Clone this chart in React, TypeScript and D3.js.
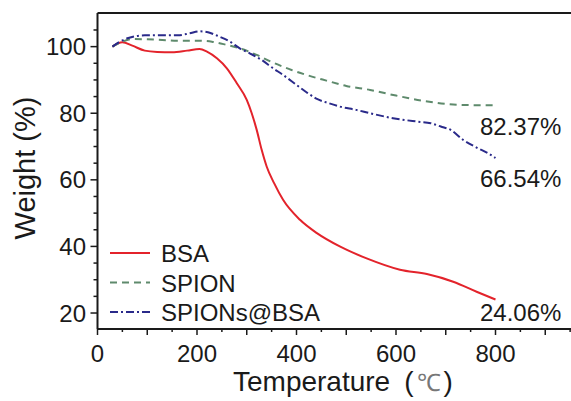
import React from "react";
import * as d3 from "d3";

const bsaT = [30, 50, 70, 95, 120, 150, 180, 205, 220, 240, 260, 280, 300, 310, 320, 330, 340, 355, 373, 407, 441, 487, 541, 608, 662, 715, 762, 800];
const bsaW = [100, 101.3, 100.3, 98.8, 98.4, 98.3, 98.8, 99.3, 98.5, 96.5, 93.5, 89, 84, 80, 75, 69, 64, 59, 54, 48, 44, 40, 36.4, 33, 31.7, 29.4, 26.4, 24.06];

const spionT = [30, 50, 70, 100, 130, 160, 200, 230, 260, 290, 320, 353, 390, 420, 460, 500, 548, 600, 660, 730, 800];
const spionW = [100, 101.5, 102.3, 102.2, 102, 101.8, 101.8, 101.5, 100.5, 99.3, 97.5, 95.2, 93, 91.5, 89.8, 88.2, 87, 85.3, 83.6, 82.5, 82.37];

const sbT = [30, 45, 62, 95, 130, 162, 185, 205, 222, 245, 265, 286, 306, 330, 353, 373, 400, 420, 441, 465, 487, 520, 548, 594, 642, 670, 690, 710, 735, 762, 785, 800];
const sbW = [100, 101.5, 102.6, 103.4, 103.4, 103.4, 104, 104.6, 104.3, 103, 101.6, 99.5, 98, 96, 93.5, 91.5, 88.5, 86.3, 84.3, 83, 82, 81, 80, 78.5, 77.5, 77, 76, 75, 72, 69.7, 68, 66.54];

const seriesNames = ["BSA", "SPION", "SPIONs@BSA"];
const seriesColors = ["#e3232b", "#5e8a6c", "#2a2a8a"];
const seriesDash = ["none", "7 5", "8 3 2 3"];
const endLabels = ["24.06%", "82.37%", "66.54%"];
const endLabelY = [321, 135, 187];

const xTicks = [0, 200, 400, 600, 800];
const yTicks = [20, 40, 60, 80, 100];

export default function App() {
  const left = 97.5, right = 570, top = 13, bottom = 329;
  const x = d3.scaleLinear().domain([0, 950]).range([left, left + 950 * 0.4975]);
  const y = d3.scaleLinear().domain([15.2, 110.1]).range([bottom, top]);
  const line = d3
    .line<[number, number]>()
    .x((d) => x(d[0]))
    .y((d) => y(d[1]))
    .curve(d3.curveMonotoneX);

  const data: [number, number][][] = [
    bsaT.map((t, i) => [t, bsaW[i]]),
    spionT.map((t, i) => [t, spionW[i]]),
    sbT.map((t, i) => [t, sbW[i]]),
  ];

  const xMinor = d3.range(0, 951, 50);
  const yMinor = d3.range(20, 110, 5);
  const font = "Liberation Sans, Arial, sans-serif";
  const axisColor = "#1a1a1a";

  return (
    <svg
      width={571}
      height={401}
      style={{ position: "absolute", left: 0, top: 0, background: "#fff" }}
      fontFamily={font}
    >
      <rect x={0} y={0} width={571} height={401} fill="#fff" />
      {data.map((d, i) => (
        <path
          key={i}
          d={line(d) || ""}
          fill="none"
          stroke={seriesColors[i]}
          strokeWidth={2}
          strokeDasharray={seriesDash[i]}
        />
      ))}
      <line x1={left} x2={right + 1} y1={top} y2={top} stroke={axisColor} strokeWidth={2} />
      <line x1={left} x2={left} y1={top} y2={bottom} stroke={axisColor} strokeWidth={2} />
      <line x1={left} x2={right + 1} y1={bottom} y2={bottom} stroke={axisColor} strokeWidth={2} />
      {xMinor.map((t) => (
        <line
          key={"xm" + t}
          x1={x(t)}
          x2={x(t)}
          y1={bottom}
          y2={bottom + (t % 100 === 0 ? 6 : 3)}
          stroke={axisColor}
          strokeWidth={1.5}
        />
      ))}
      {yMinor.map((t) => (
        <line
          key={"ym" + t}
          x1={left}
          x2={left - (t % 20 === 0 ? 7 : 4)}
          y1={y(t)}
          y2={y(t)}
          stroke={axisColor}
          strokeWidth={1.5}
        />
      ))}
      {xTicks.map((t) => (
        <text key={"xt" + t} x={x(t)} y={362} fontSize={24} textAnchor="middle" fill="#1a1a1a">
          {t}
        </text>
      ))}
      {yTicks.map((t) => (
        <text key={"yt" + t} x={86} y={y(t) + 8.5} fontSize={24} textAnchor="end" fill="#1a1a1a">
          {t}
        </text>
      ))}
      <text x={233} y={391} fontSize={28} fill="#1a1a1a">
        Temperature
        <tspan dx={14}>(</tspan>
        <tspan dx={3} fill="#777" fontSize={24}>℃</tspan>
        <tspan dx={3}>)</tspan>
      </text>
      <text
        transform={`translate(35,168) rotate(-90)`}
        fontSize={29}
        textAnchor="middle"
        fill="#1a1a1a"
      >
        Weight (%)
      </text>
      {endLabels.map((l, i) => (
        <text key={"el" + i} x={480} y={endLabelY[i]} fontSize={24} fill="#1a1a1a">
          {l}
        </text>
      ))}
      {seriesNames.map((n, i) => (
        <g key={"lg" + i} transform={`translate(0,${253 + i * 29.5})`}>
          <line
            x1={110}
            x2={150}
            y1={0}
            y2={0}
            stroke={seriesColors[i]}
            strokeWidth={2}
            strokeDasharray={seriesDash[i]}
          />
          <text x={161} y={9} fontSize={24} fill="#1a1a1a">
            {n}
          </text>
        </g>
      ))}
    </svg>
  );
}
